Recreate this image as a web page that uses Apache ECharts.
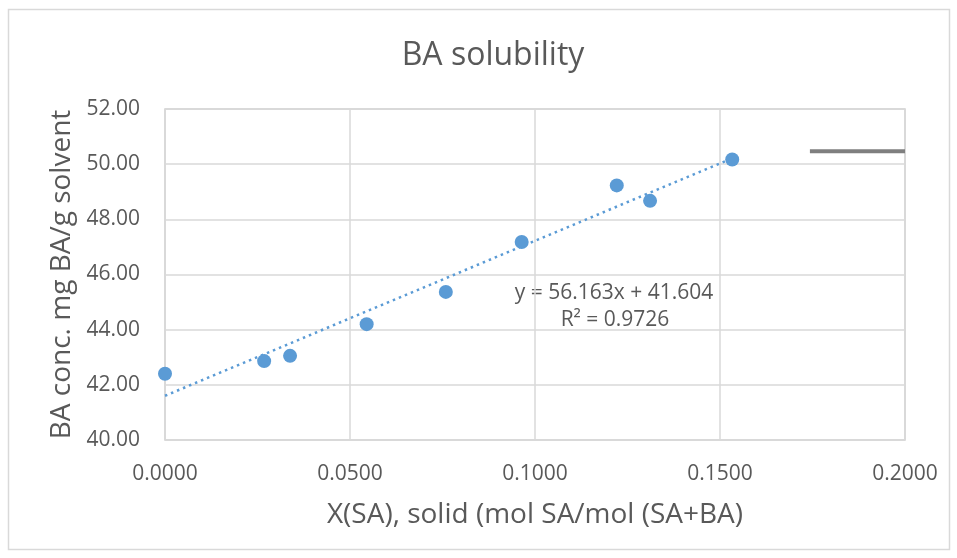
<!DOCTYPE html>
<html><head><meta charset="utf-8">
<script src="https://cdn.jsdelivr.net/npm/echarts@6/dist/echarts.min.js"></script>
<style>html,body{margin:0;padding:0;background:#fff}#c{width:957px;height:558px}</style>
</head><body><div id="c"></div>
<script>
const xValues = [0.0000, 0.0268, 0.0338, 0.0545, 0.0759, 0.0964, 0.1221, 0.1311, 0.1533];
const yValues = [42.40, 42.86, 43.05, 44.20, 45.37, 47.18, 49.23, 48.67, 50.17];
const slope = 56.163;
const intercept = 41.604;
const rSquared = 0.9726;
const markerLineX = [0.1743, 0.2000];
const markerLineY = [50.47, 50.47];

const points = xValues.map((x, i) => [x, yValues[i]]);
const xMaxData = Math.max(...xValues);
const trend = [[0, intercept], [xMaxData, slope * xMaxData + intercept]];
const marker = markerLineX.map((x, i) => [x, markerLineY[i]]);

const font = '"Open Sans", "Noto Sans", sans-serif';
const txt = '#595959';
const chart = echarts.init(document.getElementById('c'));
chart.setOption({
  animation: false,
  textStyle: { fontFamily: font },
  title: {
    text: 'BA solubility', left: 488, top: 35, textAlign: 'center',
    textStyle: { fontFamily: font, fontSize: 32, fontWeight: 'normal', color: txt }
  },
  grid: { left: 165, right: 52, top: 109, bottom: 118, show: true, borderColor: '#d0d0d0', borderWidth: 1.5 },
  xAxis: {
    type: 'value', min: 0, max: 0.2, interval: 0.05,
    name: 'X(SA), solid (mol SA/mol (SA+BA)', nameLocation: 'middle', nameGap: 61,
    nameTextStyle: { fontFamily: font, fontSize: 28, color: txt },
    axisLine: { show: false }, axisTick: { show: false },
    axisLabel: { formatter: v => v.toFixed(4), fontSize: 21, color: txt, margin: 24 },
    splitLine: { lineStyle: { color: '#d9d9d9', width: 1.5 } }
  },
  yAxis: {
    type: 'value', min: 40, max: 52, interval: 2,
    name: 'BA conc. mg BA/g solvent', nameLocation: 'middle', nameGap: 86,
    nameTextStyle: { fontFamily: font, fontSize: 28, color: txt },
    axisLine: { show: false }, axisTick: { show: false },
    axisLabel: { formatter: v => v.toFixed(2), fontSize: 21, color: txt, margin: 25 },
    splitLine: { lineStyle: { color: '#d9d9d9', width: 1.5 } }
  },
  graphic: [
    { type: 'rect', shape: { x: 8.5, y: 9.5, width: 941, height: 540 }, style: { fill: null, stroke: '#d9d9d9', lineWidth: 1.5 }, silent: true, z: -1 },
    { type: 'text', x: 614, y: 293, style: { text: 'y = 56.163x + 41.604', fill: txt, font: '21px ' + font, align: 'center', verticalAlign: 'middle' } },
    { type: 'text', x: 615, y: 320, style: { text: 'R² = ' + rSquared.toFixed(4), fill: txt, font: '21px ' + font, align: 'center', verticalAlign: 'middle' } }
  ],
  series: [
    { type: 'line', data: trend, showSymbol: false, lineStyle: { color: '#5b9bd5', width: 2.5, type: [2.5, 4] }, z: 2 },
    { type: 'scatter', data: points, symbolSize: 14, itemStyle: { color: '#5b9bd5', opacity: 1 }, z: 3 },
    { type: 'line', data: marker, showSymbol: false, lineStyle: { color: '#7f7f7f', width: 4 }, z: 2 }
  ]
});
</script></body></html>
